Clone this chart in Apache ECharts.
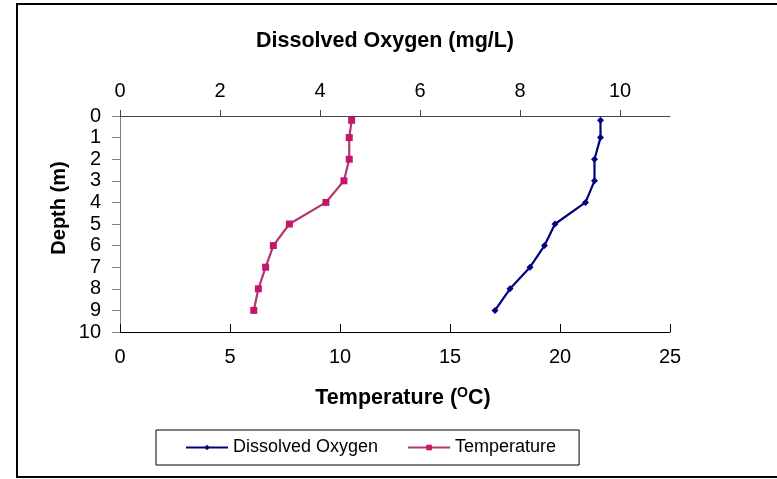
<!DOCTYPE html>
<html>
<head>
<meta charset="utf-8">
<script src="https://cdn.jsdelivr.net/npm/echarts@6/dist/echarts.min.js"></script>
<style>
  html, body { margin: 0; padding: 0; background: #fff; }
  #chart { width: 777px; height: 479px; }
</style>
</head>
<body>
<div id="chart"></div>
<script>
// Depth profile: sampling depths (m)
const depths = [0.2, 1, 2, 3, 4, 5, 6, 7, 8, 9];
// Dissolved oxygen (mg/L) at each depth
const oxygenValues = [9.61, 9.61, 9.49, 9.49, 9.31, 8.70, 8.49, 8.20, 7.80, 7.50];
// Water temperature (°C) at each depth
const temperatureValues = [10.53, 10.42, 10.42, 10.18, 9.36, 7.70, 6.97, 6.62, 6.29, 6.08];
// Tick labels
const oxygenTicks = [0, 2, 4, 6, 8, 10];
const temperatureTicks = [0, 5, 10, 15, 20, 25];
const depthTicks = [0, 1, 2, 3, 4, 5, 6, 7, 8, 9, 10];

const FONT = 'Liberation Sans, Arial, sans-serif';

const chart = echarts.init(document.getElementById('chart'), null, { renderer: 'canvas' });

const option = {
  backgroundColor: '#fff',
  animation: false,
  grid: { left: 120, right: 107, top: 116, bottom: 147, containLabel: false },
  legend: {
    left: 156,
    top: 430,
    orient: 'horizontal',
    selectedMode: false,
    borderColor: '#000',
    borderWidth: 1,
    backgroundColor: '#fff',
    padding: [8, 23, 8, 29],
    itemWidth: 42,
    itemHeight: 7,
    itemGap: 29,
    textStyle: { fontFamily: FONT, fontSize: 18, color: '#000', lineHeight: 19 },
    data: ['Dissolved Oxygen', 'Temperature']
  },
  xAxis: [
    {
      // Temperature axis along the bottom
      type: 'value',
      position: 'bottom',
      min: 0,
      max: 25,
      interval: 5,
      axisLine: { show: true, onZero: false, lineStyle: { color: '#000', width: 1 } },
      axisTick: { show: true, inside: true, length: 8, lineStyle: { color: '#000' } },
      axisLabel: {
        fontFamily: FONT, fontSize: 20, color: '#000', margin: 15,
        customValues: temperatureTicks
      },
      splitLine: { show: false }
    },
    {
      // Dissolved oxygen axis along the top
      type: 'value',
      position: 'top',
      min: 0,
      max: 11,
      interval: 2,
      axisLine: { show: true, onZero: false, lineStyle: { color: '#444', width: 1 } },
      axisTick: {
        show: true, inside: false, length: 6, lineStyle: { color: '#444' },
        customValues: oxygenTicks
      },
      axisLabel: {
        fontFamily: FONT, fontSize: 20, color: '#000', margin: 15,
        customValues: oxygenTicks,
        formatter: v => (v > 10 ? '' : String(v))
      },
      splitLine: { show: false }
    }
  ],
  yAxis: {
    type: 'value',
    inverse: true,
    min: 0,
    max: 10,
    interval: 1,
    axisLine: { show: true, onZero: false, lineStyle: { color: '#808080', width: 1 } },
    axisTick: { show: true, inside: false, length: 8, lineStyle: { color: '#808080' } },
    axisLabel: {
      fontFamily: FONT, fontSize: 20, color: '#000', margin: 19,
      customValues: depthTicks
    },
    splitLine: { show: false }
  },
  series: [
    {
      name: 'Dissolved Oxygen',
      type: 'line',
      xAxisIndex: 1,
      data: depths.map((d, i) => [oxygenValues[i], d]),
      symbol: 'diamond',
      symbolSize: 7,
      itemStyle: { color: '#000080' },
      lineStyle: { color: '#000080', width: 2.2 }
    },
    {
      name: 'Temperature',
      type: 'line',
      xAxisIndex: 0,
      data: depths.map((d, i) => [temperatureValues[i], d]),
      symbol: 'rect',
      symbolSize: 7,
      itemStyle: { color: '#C4166E' },
      lineStyle: { color: '#AD3A6C', width: 2.2 }
    }
  ],
  graphic: [
    {
      type: 'rect',
      silent: true,
      z: -1,
      shape: { x: 17, y: 4, width: 800, height: 473 },
      style: { fill: null, stroke: '#000', lineWidth: 2 }
    },
    {
      type: 'text',
      x: 385,
      y: 41,
      style: {
        text: 'Dissolved Oxygen (mg/L)',
        fontFamily: FONT, fontSize: 21.5, fontWeight: 'bold', fill: '#000',
        align: 'center', verticalAlign: 'middle'
      }
    },
    {
      type: 'text',
      x: 403,
      y: 398,
      style: {
        text: '{a|Temperature (}{s|O}{a|C)}',
        align: 'center', verticalAlign: 'middle',
        rich: {
          a: { fontFamily: FONT, fontSize: 21.5, fontWeight: 'bold', fill: '#000', lineHeight: 24 },
          s: { fontFamily: FONT, fontSize: 14, fontWeight: 'bold', fill: '#000', lineHeight: 16, verticalAlign: 'top' }
        }
      }
    },
    {
      type: 'text',
      x: 59,
      y: 208,
      rotation: Math.PI / 2,
      style: {
        text: 'Depth (m)',
        fontFamily: FONT, fontSize: 20, fontWeight: 'bold', fill: '#000',
        align: 'center', verticalAlign: 'middle'
      }
    }
  ]
};

chart.setOption(option);
</script>
</body>
</html>
